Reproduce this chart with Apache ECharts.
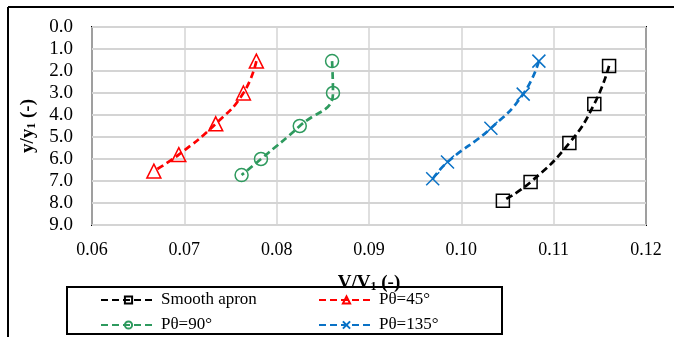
<!DOCTYPE html>
<html>
<head>
<meta charset="utf-8">
<script src="https://cdn.jsdelivr.net/npm/echarts@6/dist/echarts.min.js"></script>
<style>
  html, body { margin: 0; padding: 0; background: #fff; }
  #chart { width: 674px; height: 337px; }
</style>
</head>
<body>
<div id="chart"></div>
<script>
// values: [V/V1, y/y1]
const smoothApron = [[0.1160, 1.77], [0.1144, 3.5], [0.1117, 5.27], [0.1075, 7.05], [0.1045, 7.9]];
const p45 = [[0.0778, 1.55], [0.0764, 3.0], [0.0734, 4.4], [0.0694, 5.8], [0.0667, 6.55]];
const p90 = [[0.0860, 1.55], [0.0861, 3.0], [0.0825, 4.5], [0.0783, 6.0], [0.0762, 6.73]];
const p135 = [[0.1084, 1.55], [0.1067, 3.05], [0.1032, 4.6], [0.0985, 6.14], [0.0969, 6.9]];

const seriesNames = ['Smooth apron', 'Pθ=45°', 'Pθ=90°', 'Pθ=135°'];
const seriesColors = ['#000000', '#ff0000', '#2e9a5e', '#0a72c6'];

const font = '"Liberation Serif", "Times New Roman", serif';
const crossPath = 'path://M0,0L10,10M10,0L0,10';

const mkSeries = (name, data, color, symbol, size) => ({
  name: name,
  type: 'line',
  data: data,
  smooth: true,
  symbol: symbol,
  symbolSize: size,
  showSymbol: true,
  lineStyle: { color: color, width: 2.7, type: [7, 4] },
  itemStyle: { color: 'rgba(0,0,0,0)', borderColor: color, borderWidth: 1.5 },
  emphasis: { disabled: true }
});

const legendText = { fontFamily: font, fontSize: 17, color: '#000', lineHeight: 20 };

const chart = echarts.init(document.getElementById('chart'));

chart.setOption({
  animation: false,
  textStyle: { fontFamily: font },
  grid: {
    left: 92, top: 27, right: 28, bottom: 112,
    show: true, borderColor: '#000', borderWidth: 2, backgroundColor: 'transparent'
  },
  legend: [
    {
      data: [seriesNames[0], seriesNames[2]],
      orient: 'vertical',
      left: 100, top: 290, height: 60, padding: 0,
      itemWidth: 55, itemHeight: 9, itemGap: 5,
      textStyle: legendText
    },
    {
      data: [seriesNames[1], seriesNames[3]],
      orient: 'vertical',
      left: 318, top: 290, height: 60, padding: 0,
      itemWidth: 55, itemHeight: 9, itemGap: 5,
      textStyle: legendText
    }
  ],
  graphic: [
    { type: 'line', shape: { x1: 8, y1: 7, x2: 674, y2: 7 }, style: { stroke: '#000', lineWidth: 2 } },
    { type: 'line', shape: { x1: 8, y1: 7, x2: 8, y2: 337 }, style: { stroke: '#000', lineWidth: 2 } },
    { type: 'rect', shape: { x: 67, y: 287, width: 435, height: 47 }, style: { fill: 'none', stroke: '#000', lineWidth: 2 }, z: -1 }
  ],
  xAxis: {
    type: 'value',
    min: 0.06, max: 0.12, interval: 0.01,
    name: '{b|V/V}{s|1}{b| (-)}',
    nameLocation: 'middle',
    nameGap: 48,
    nameTextStyle: {
      rich: {
        b: { fontFamily: font, fontSize: 19, fontWeight: 'bold', color: '#000' },
        s: { fontFamily: font, fontSize: 12, fontWeight: 'bold', color: '#000', verticalAlign: 'bottom', padding: [8, 0, 0, 0] }
      }
    },
    axisLine: { show: false },
    axisTick: { show: false },
    axisLabel: { fontSize: 18, color: '#000', margin: 16, formatter: v => v.toFixed(2) },
    splitLine: { lineStyle: { color: '#d4d4d4', width: 1.5 } }
  },
  yAxis: {
    type: 'value',
    inverse: true,
    min: 0, max: 9, interval: 1,
    name: '{b|y/y}{s|1}{b| (-)}',
    nameLocation: 'middle',
    nameGap: 51,
    nameTextStyle: {
      rich: {
        b: { fontFamily: font, fontSize: 19, fontWeight: 'bold', color: '#000' },
        s: { fontFamily: font, fontSize: 12, fontWeight: 'bold', color: '#000', verticalAlign: 'bottom', padding: [8, 0, 0, 0] }
      }
    },
    axisLine: { show: false },
    axisTick: { show: false },
    axisLabel: { fontSize: 19, color: '#000', margin: 19, formatter: v => v.toFixed(1) },
    splitLine: { lineStyle: { color: '#d4d4d4', width: 2 } }
  },
  series: [
    mkSeries(seriesNames[0], smoothApron, seriesColors[0], 'rect', 13),
    mkSeries(seriesNames[1], p45, seriesColors[1], 'triangle', 14),
    mkSeries(seriesNames[2], p90, seriesColors[2], 'circle', 13),
    mkSeries(seriesNames[3], p135, seriesColors[3], crossPath, 13)
  ]
});
</script>
</body>
</html>
